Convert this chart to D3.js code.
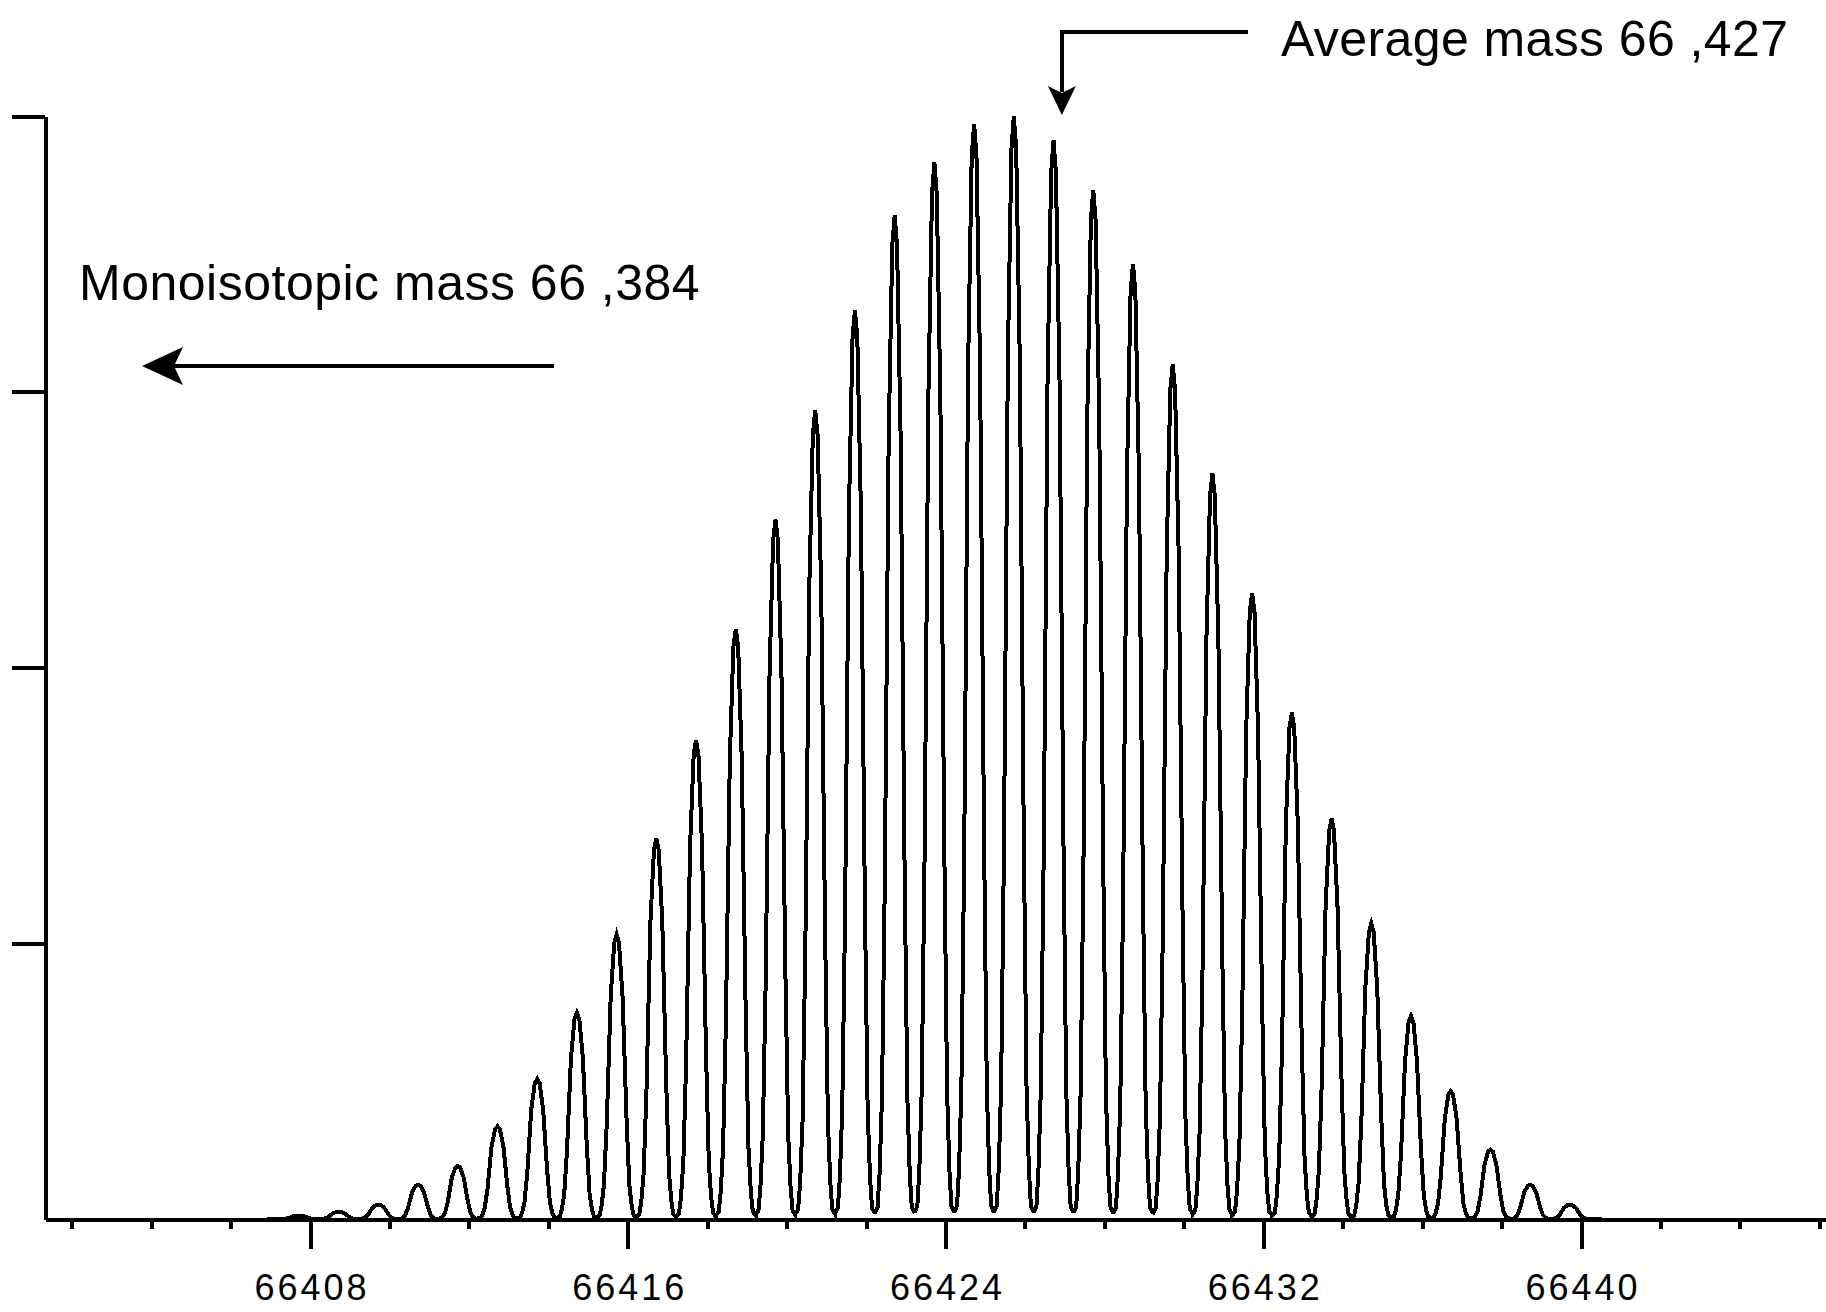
<!DOCTYPE html>
<html>
<head>
<meta charset="utf-8">
<script src="https://cdn.jsdelivr.net/npm/d3@7/dist/d3.min.js"></script>
<style>
  html, body { margin: 0; padding: 0; background: #fff; }
  svg { display: block; }
</style>
</head>
<body>
<script>
// isotope peaks (mass, relative intensity)
var peakMass = [
  66407.72, 66408.72, 66409.72, 66410.72, 66411.72, 66412.72, 66413.72, 66414.72,
  66415.72, 66416.72, 66417.72, 66418.72, 66419.72, 66420.72, 66421.72, 66422.72,
  66423.72, 66424.72, 66425.72, 66426.72, 66427.72, 66428.72, 66429.72, 66430.72,
  66431.72, 66432.72, 66433.72, 66434.72, 66435.72, 66436.72, 66437.72, 66438.72,
  66439.72
]
var peakHeight = [
  0.003, 0.0065, 0.013, 0.031, 0.048, 0.084, 0.127, 0.187,
  0.258, 0.345, 0.434, 0.535, 0.634, 0.733, 0.824, 0.91,
  0.958, 0.993, 1.0, 0.978, 0.933, 0.866, 0.775, 0.676,
  0.567, 0.459, 0.363, 0.268, 0.184, 0.116, 0.063, 0.031,
  0.013
]

var majorTicks = [66408, 66416, 66424, 66432, 66440]
var minorTicks = [66402, 66404, 66406, 66410, 66412, 66414, 66418, 66420, 66422,
  66426, 66428, 66430, 66434, 66436, 66438, 66442, 66444, 66446]
var yTicks = [0.25, 0.5, 0.75, 1.0]

var averageMass = 66426.93
var averageLabel = "Average mass 66 ,427"
var monoLabel = "Monoisotopic mass 66 ,384"

// shape of one isotope peak (offset in Da, fraction of peak height)
var profileOffset = [-0.5, -0.43, -0.38, -0.32, -0.25, -0.15, -0.06, 0, 0.06, 0.15, 0.25, 0.32, 0.38, 0.43, 0.5]
var profileFrac = [0.006, 0.012, 0.045, 0.12, 0.33, 0.78, 0.97, 1, 0.97, 0.78, 0.35, 0.12, 0.045, 0.012, 0.006]

var width = 1826
var height = 1312
var plotLeft = 45
var plotTop = 116
var baseY = 1219

var x = d3.scaleLinear()
  .domain([66408, 66440])
  .range([310, 1581])

var y = d3.scaleLinear()
  .domain([0, 1])
  .range([baseY, plotTop])

var svg = d3.select("body")
  .append("svg")
  .attr("width", width)
  .attr("height", height)

// spectrum trace
var data = []
peakMass.forEach(function (m, i) {
  profileOffset.forEach(function (o, j) {
    data.push({ x: m + o, y: peakHeight[i] * profileFrac[j] })
  })
})
data.unshift({ x: peakMass[0] - 0.8, y: 0 })
data.push({ x: peakMass[peakMass.length - 1] + 0.8, y: 0 })

var lineGenerator = d3.line()
  .x(function (d) { return x(d.x) })
  .y(function (d) { return y(d.y) })

svg.append("path")
  .attr("d", lineGenerator(data))
  .attr("fill", "none")
  .attr("stroke", "#000")
  .attr("stroke-width", 4)
  .attr("stroke-linejoin", "miter")
  .attr("shape-rendering", "crispEdges")

// axes
var xAxisScale = x.copy()
  .domain([x.invert(plotLeft), x.invert(width)])
  .range([plotLeft, width])

svg.append("g")
  .attr("transform", "translate(0," + baseY + ")")
  .call(d3.axisBottom(xAxisScale).tickValues(minorTicks).tickSize(10).tickSizeOuter(0).tickFormat(""))

var xMajor = svg.append("g")
  .attr("transform", "translate(0," + baseY + ")")
  .call(d3.axisBottom(xAxisScale).tickValues(majorTicks).tickSize(30).tickSizeOuter(0).tickFormat(d3.format("d")))

xMajor.selectAll("text")
  .attr("y", 81)
  .attr("dy", 0)
  .attr("dx", 1.5)
  .attr("fill", "#000")
  .style("font-family", "'Liberation Sans', Arial, sans-serif")
  .style("font-size", "36px")
  .style("letter-spacing", "3px")

svg.append("g")
  .attr("transform", "translate(" + plotLeft + ",0)")
  .call(d3.axisLeft(y).tickValues(yTicks).tickSize(33).tickSizeOuter(0).tickFormat(""))

svg.selectAll(".domain, .tick line")
  .attr("stroke", "#000")
  .attr("stroke-width", 4)
  .attr("shape-rendering", "crispEdges")

// annotations
var ax = x(averageMass)
svg.append("path")
  .attr("d", "M1248,31.5 H" + ax + " V92")
  .attr("fill", "none")
  .attr("stroke", "#000")
  .attr("stroke-width", 4)
  .attr("shape-rendering", "crispEdges")
svg.append("path")
  .attr("d", "M" + ax + ",115 L" + (ax - 14) + ",86 L" + ax + ",93 L" + (ax + 14) + ",86 Z")
  .attr("fill", "#000")

svg.append("text")
  .attr("x", 1281)
  .attr("y", 56)
  .style("font-family", "'Liberation Sans', Arial, sans-serif")
  .style("font-size", "50px")
  .style("letter-spacing", "0.4px")
  .text(averageLabel)

svg.append("line")
  .attr("x1", 160).attr("x2", 554)
  .attr("y1", 366).attr("y2", 366)
  .attr("stroke", "#000")
  .attr("stroke-width", 4)
  .attr("shape-rendering", "crispEdges")
svg.append("path")
  .attr("d", "M142,366 L183,347 L174,366 L183,385 Z")
  .attr("fill", "#000")

svg.append("text")
  .attr("x", 79)
  .attr("y", 300)
  .style("font-family", "'Liberation Sans', Arial, sans-serif")
  .style("font-size", "50px")
  .style("letter-spacing", "0.5px")
  .text(monoLabel)
</script>
</body>
</html>
